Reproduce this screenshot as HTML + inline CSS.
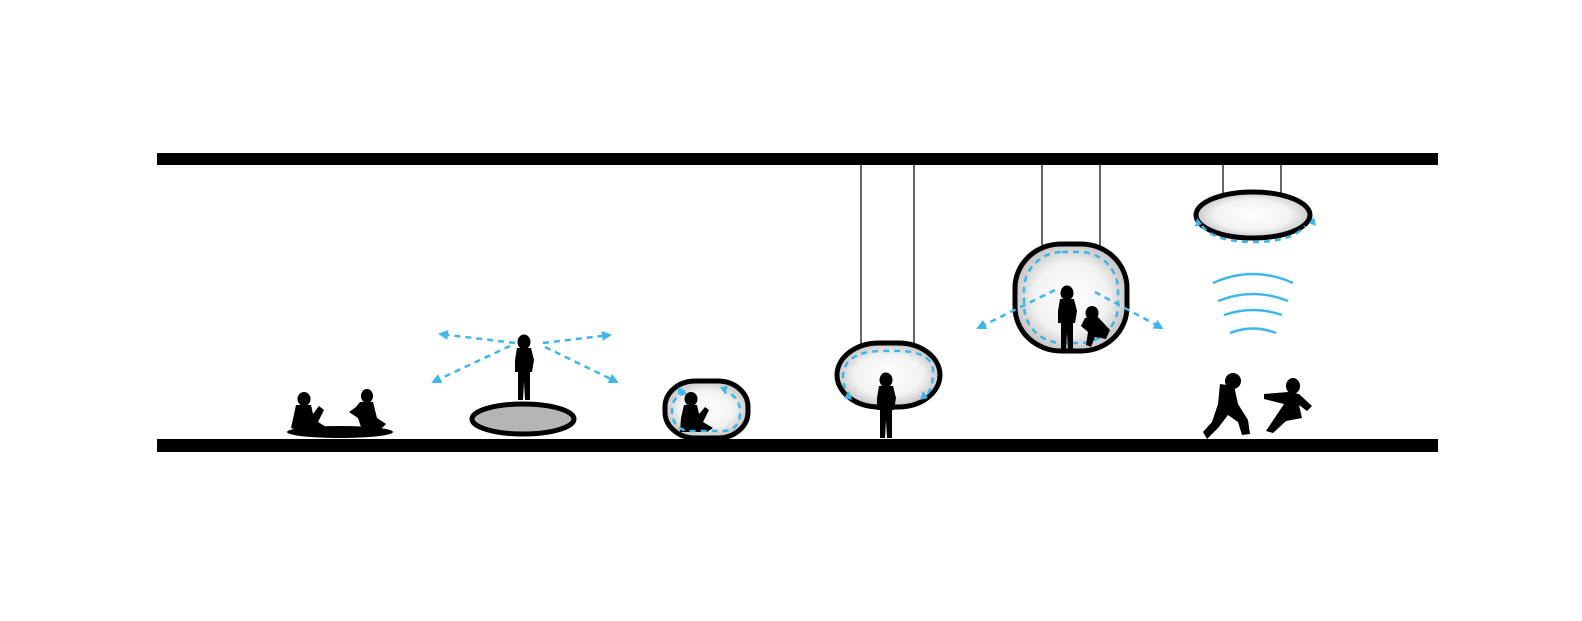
<!DOCTYPE html>
<html><head><meta charset="utf-8"><style>html,body{margin:0;padding:0;background:#fff;overflow:hidden}svg{display:block}</style></head>
<body>
<svg width="1582" height="621" viewBox="0 0 1582 621" xmlns="http://www.w3.org/2000/svg">
<defs>
<radialGradient id="g" cx="50%" cy="50%" r="60%"><stop offset="0" stop-color="#fff"/><stop offset="0.55" stop-color="#f2f2f2"/><stop offset="1" stop-color="#b0b0b0"/></radialGradient>
<marker id="a" viewBox="0 0 10 10" refX="8" refY="5" markerWidth="4" markerHeight="4" orient="auto"><path d="M0 0L10 5L0 10z" fill="#3fb6ea"/></marker>
<g id="stand"><ellipse cx="0" cy="-58" rx="6.5" ry="7.5"/><path d="M-7-52 L7-52 L10-40 L8-28 L6-28 L6 0 L1 0 L0-18 L-1 0 L-6 0 L-6-28 L-9-28 L-9-40Z"/></g>
</defs>
<rect x="157" y="153" width="1281" height="12" fill="#000"/>
<rect x="157" y="439" width="1281" height="13" fill="#000"/>
<g stroke="#000" stroke-width="1.2"><line x1="861" y1="165" x2="861" y2="344"/><line x1="914" y1="165" x2="914" y2="344"/><line x1="1042" y1="165" x2="1042" y2="246"/><line x1="1100" y1="165" x2="1100" y2="246"/><line x1="1223" y1="165" x2="1223" y2="193"/><line x1="1281" y1="165" x2="1281" y2="193"/></g>
<!-- mat & kids -->
<ellipse cx="340" cy="432" rx="53" ry="6" fill="#000"/>
<g fill="#000"><ellipse cx="304" cy="399" rx="6.5" ry="7"/><path d="M296 405 L311 405 L313 414 L319 406 L324 410 L318 422 L328 428 L300 431 L291 428 Z"/>
<ellipse cx="367" cy="396" rx="6" ry="7"/><path d="M360 402 L373 402 L377 418 L386 424 L380 430 L362 430 L358 418 L349 412 L356 407Z"/></g>
<!-- platform -->
<ellipse cx="523" cy="419" rx="51" ry="15" fill="#b5b5b5" stroke="#000" stroke-width="5"/>
<use href="#stand" x="524" y="400"/>
<g stroke="#3fb6ea" stroke-width="2.5" stroke-dasharray="6,5" fill="none" marker-end="url(#a)">
<line x1="515" y1="343" x2="440" y2="334"/><line x1="510" y1="346" x2="433" y2="382"/><line x1="543" y1="343" x2="610" y2="335"/><line x1="545" y1="347" x2="617" y2="382"/></g>
<!-- pod3 -->
<rect x="665" y="381" width="83" height="57" rx="30" ry="26" fill="url(#g)" stroke="#000" stroke-width="5"/>
<g fill="#000"><ellipse cx="691" cy="399" rx="6.5" ry="7"/><path d="M684 405 L697 405 L699 414 L705 407 L709 410 L703 422 L713 428 L707 432 L680 432 L681 418Z"/></g>
<path d="M686 393 Q672 396 672 410 Q672 430 690 431 L724 431 Q740 430 740 412 Q740 395 724 392" fill="none" stroke="#3fb6ea" stroke-width="2.5" stroke-dasharray="6,5"/>
<path d="M686 391l-8-4 0 8z M720 387l8-1-3 8z" fill="#3fb6ea"/>
<!-- pod4 -->
<rect x="837" y="343" width="103" height="64" rx="42" ry="32" fill="url(#g)" stroke="#000" stroke-width="5"/>
<path d="M851 398 Q843 390 843 375 Q845 352 880 351 L900 351 Q933 352 933 372 Q933 390 924 398" fill="none" stroke="#3fb6ea" stroke-width="2.5" stroke-dasharray="6,5"/>
<path d="M852 400l-8-2 5-7z M920 400l8-2-5-7z" fill="#3fb6ea"/>
<use href="#stand" x="886" y="438"/>
<!-- pod5 -->
<rect x="1015" y="244" width="112" height="107" rx="46" ry="44" fill="url(#g)" stroke="#000" stroke-width="5"/>
<rect x="1024" y="252" width="94" height="91" rx="38" fill="none" stroke="#3fb6ea" stroke-width="2.5" stroke-dasharray="6,5"/>
<use href="#stand" x="1067" y="351"/>
<g fill="#000"><ellipse cx="1092" cy="313" rx="6.5" ry="7"/><path d="M1085 318 L1097 316 L1110 330 L1106 339 L1095 337 L1091 347 L1086 345 L1088 332 L1081 326Z"/></g>
<g stroke="#3fb6ea" stroke-width="2.5" stroke-dasharray="6,5" fill="none" marker-end="url(#a)">
<line x1="1055" y1="290" x2="978" y2="328"/><line x1="1095" y1="292" x2="1162" y2="328"/></g>
<!-- pod6 -->
<ellipse cx="1253" cy="215" rx="57" ry="23" fill="url(#g)" stroke="#000" stroke-width="5"/>
<path d="M1202 226 Q1215 242 1253 242 Q1292 242 1305 226" fill="none" stroke="#3fb6ea" stroke-width="2.5" stroke-dasharray="6,5"/>
<path d="M1197 218l-2 9 7-3z M1314 217l2 9-7-3z" fill="#3fb6ea"/>
<g stroke="#3fb6ea" stroke-width="2.5" fill="none">
<path d="M1213 283 Q1253 265 1293 283"/><path d="M1218 301 Q1253 287 1288 301"/><path d="M1224 315 Q1253 305 1282 315"/><path d="M1230 333 Q1253 324 1276 333"/></g>
<!-- runners -->
<g fill="#000"><ellipse cx="1233" cy="381" rx="8" ry="8"/><path d="M1220 384 L1234 386 L1238 404 L1248 420 L1250 434 L1242 435 L1238 422 L1228 415 L1218 428 L1207 439 L1203 432 L1212 422 L1218 404Z"/>
<ellipse cx="1293" cy="386" rx="7" ry="8"/><path d="M1264 394 L1288 392 L1299 394 L1312 406 L1307 411 L1299 405 L1302 418 L1286 421 L1273 433 L1266 431 L1276 416 L1284 404 L1264 399Z"/></g>
</svg>
</body></html>
